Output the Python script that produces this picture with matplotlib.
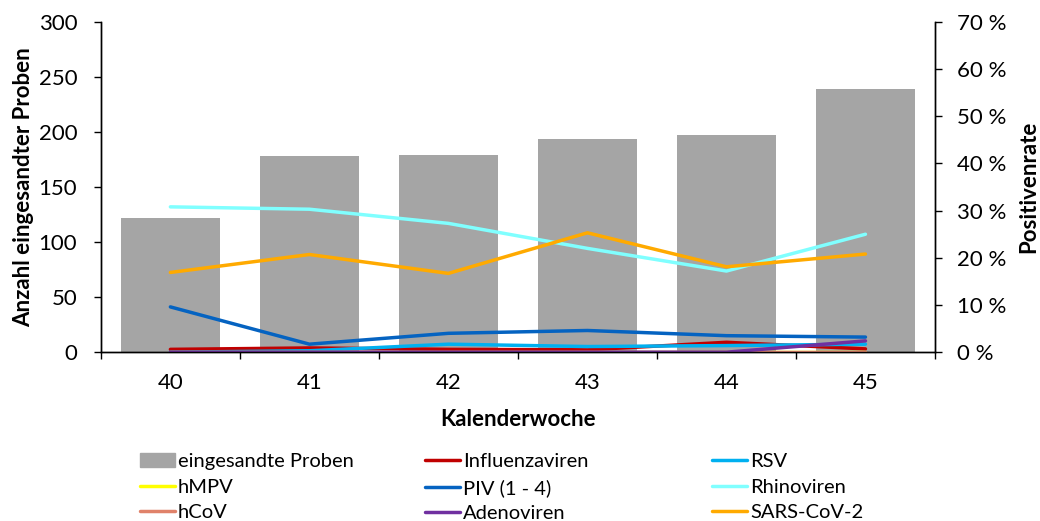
import matplotlib
matplotlib.use('Agg')
import matplotlib.pyplot as plt
from matplotlib.ticker import FuncFormatter, MultipleLocator, FixedLocator
from matplotlib.patches import Patch
from matplotlib.lines import Line2D

plt.rcParams['font.family'] = ['Lato', 'DejaVu Sans']

# Daten
wochen = ['40', '41', '42', '43', '44', '45']
proben = [122, 178, 179, 194, 197, 239]

influenza = [0.6, 0.9, 0.6, 0.5, 2.1, 0.7]
rsv = [0.0, 0.3, 1.7, 1.2, 1.4, 1.7]
hmpv = [0.0, 0.0, 0.0, 0.0, 0.0, 0.0]
piv = [9.6, 1.7, 4.0, 4.6, 3.5, 3.2]
rhino = [30.8, 30.3, 27.3, 22.0, 17.2, 25.0]
hcov = [0.0, 0.0, 0.0, 0.0, 0.0, 0.0]
adeno = [0.0, 0.0, 0.0, 0.0, 0.0, 2.4]
sars = [16.9, 20.7, 16.7, 25.3, 18.1, 20.8]

serien = [
    ('Influenzaviren', influenza, '#C00000'),
    ('RSV', rsv, '#00B0F0'),
    ('hMPV', hmpv, '#FFFF00'),
    ('PIV (1 - 4)', piv, '#0563C1'),
    ('Rhinoviren', rhino, '#80FFFF'),
    ('hCoV', hcov, '#E0826A'),
    ('Adenoviren', adeno, '#7030A0'),
    ('SARS-CoV-2', sars, '#FFAA00'),
]

FS = 16          # Achsenbeschriftung
FS_LAB = 16      # fette Titel
FS_LEG = 14.5    # Legende

fig = plt.figure(figsize=(10.4, 5.21), dpi=100)
ax = fig.add_axes([0.097, 0.324, 0.802, 0.634])
x = list(range(len(wochen)))

ax.bar(x, proben, width=0.71, color='#A5A5A5', zorder=1)
ax.set_xlim(-0.5, len(wochen) - 0.5)
ax.set_ylim(0, 300)
ax.yaxis.set_major_locator(MultipleLocator(50))

ax2 = ax.twinx()
for name, werte, farbe in serien:
    ax2.plot(x, werte, color=farbe, lw=2.5, solid_capstyle='round',
             solid_joinstyle='round')
ax2.set_ylim(0, 70)
ax2.yaxis.set_major_locator(MultipleLocator(10))
ax2.yaxis.set_major_formatter(FuncFormatter(lambda v, p: '%d %%' % v))

# Achsen
for a in (ax, ax2):
    a.spines['top'].set_visible(False)
    for s in ('left', 'right', 'bottom'):
        a.spines[s].set_color('black')
        a.spines[s].set_linewidth(1)

ax.set_xticks(x)
ax.set_xticklabels(wochen)
ax.xaxis.set_minor_locator(FixedLocator([i - 0.5 for i in range(len(wochen) + 1)]))
ax.tick_params(axis='x', which='major', length=0, pad=15, labelsize=FS)
ax.tick_params(axis='x', which='minor', length=5, width=1, direction='out')
ax.tick_params(axis='y', length=5, width=1, pad=12, labelsize=FS)
ax2.tick_params(axis='y', length=5, width=1, pad=11, labelsize=FS)

ax.set_xlabel('Kalenderwoche', fontsize=FS_LAB, fontweight='bold')
ax.xaxis.set_label_coords(0.5, -0.205)
ax.xaxis.label.set_va('center')
ax.set_ylabel('Anzahl eingesandter Proben', fontsize=FS_LAB, fontweight='bold')
ax.yaxis.set_label_coords(-0.093, 0.5)
ax.yaxis.label.set_va('center')
ax2.set_ylabel('Positivenrate', fontsize=FS_LAB, fontweight='bold')
ax2.yaxis.set_label_coords(1.112, 0.5)
ax2.yaxis.label.set_va('center')

# Legende in drei Spalten
def linie(i):
    name, werte, farbe = serien[i]
    return Line2D([], [], color=farbe, lw=2.5, solid_capstyle='round'), name

spalten = [
    [(Patch(color='#A5A5A5'), 'eingesandte Proben'), linie(2), linie(5)],
    [linie(0), linie(3), linie(6)],
    [linie(1), linie(4), linie(7)],
]
links = [0.1346, 0.4087, 0.6846]
for pos, spalte in zip(links, spalten):
    leg = fig.legend([h for h, l in spalte], [l for h, l in spalte],
                     loc='upper left', bbox_to_anchor=(pos, 0.13),
                     frameon=False, fontsize=FS_LEG, handlelength=1.74,
                     handletextpad=0.15, borderpad=0, borderaxespad=0,
                     labelspacing=0.42)

fig.savefig('out.png', dpi=100)
